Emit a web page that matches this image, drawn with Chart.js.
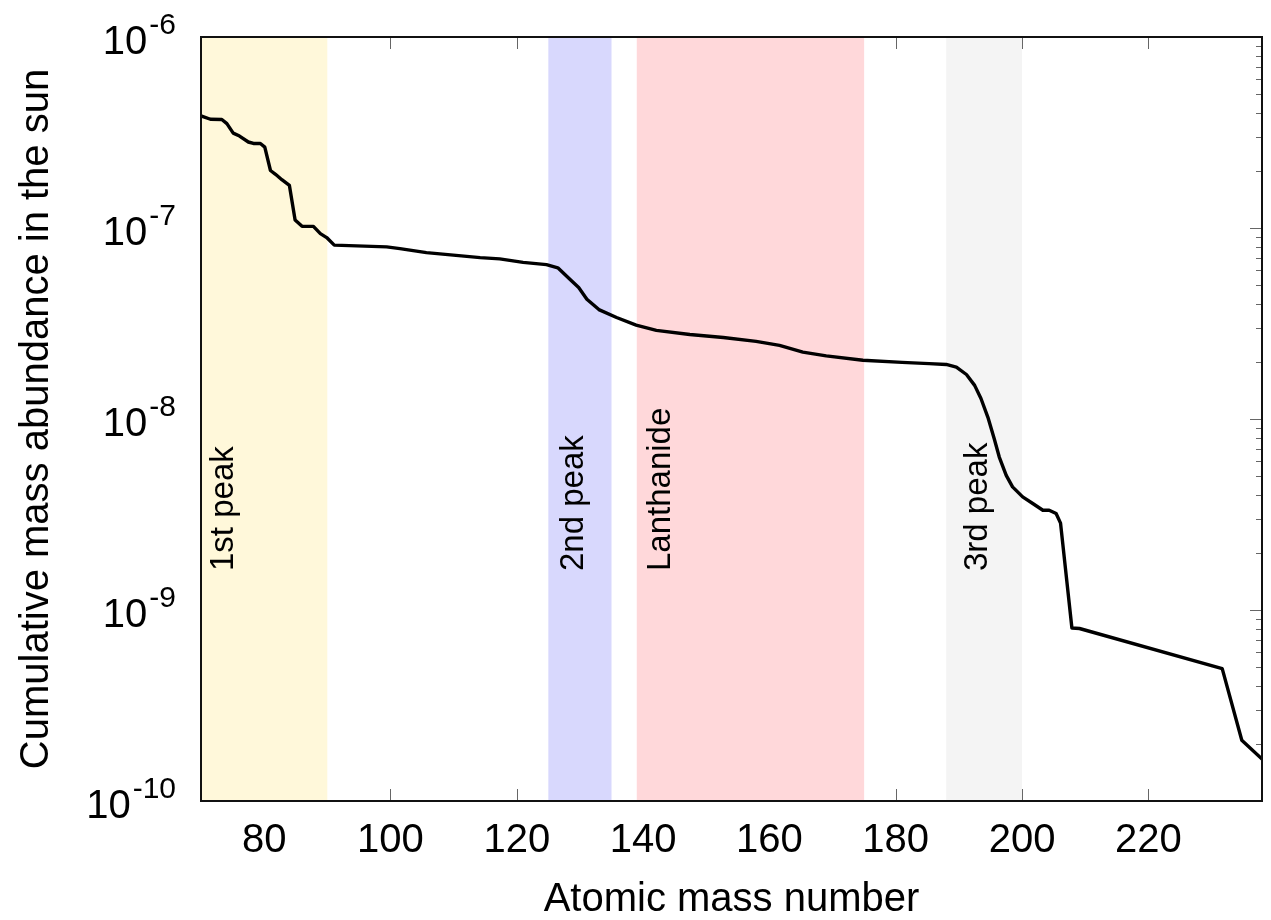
<!DOCTYPE html>
<html>
<head>
<meta charset="utf-8">
<title>Cumulative mass abundance in the sun</title>
<script src="https://cdn.jsdelivr.net/npm/chart.js@4.4.1/dist/chart.umd.min.js"></script>
<style>
  html, body { margin: 0; padding: 0; background: #fff; }
  canvas { display: block; }
</style>
</head>
<body>
<canvas id="chart" width="1271" height="920"></canvas>
<script>
// values
const massNumber = [
  70.0, 71.5, 73.3, 74.1, 75.1, 76.1, 77.5, 78.3, 79.4, 80.1,
  81.0, 81.8, 82.8, 84.0, 84.9, 86.0, 87.8, 88.9, 89.9, 91.1,
  99.4, 101.5, 105.7, 114.2, 117.3, 121.0, 124.7, 126.5, 128.2, 129.8,
  131.1, 133.0, 135.8, 138.9, 142.1, 147.4, 152.7, 157.9, 161.6, 165.3,
  169.0, 174.8, 181.0, 185.3, 188.0, 189.6, 191.2, 192.5, 193.5, 194.6,
  195.6, 196.4, 197.5, 198.5, 200.1, 201.7, 203.3, 204.3, 205.4, 206.1,
  207.9, 209.1, 231.7, 234.8, 238.0
]
const abundance = [
  3.86e-7, 3.71e-7, 3.70e-7, 3.52e-7, 3.14e-7, 3.03e-7, 2.82e-7, 2.77e-7, 2.77e-7, 2.65e-7,
  2.00e-7, 1.91e-7, 1.79e-7, 1.67e-7, 1.10e-7, 1.02e-7, 1.02e-7, 9.35e-8, 8.91e-8, 8.13e-8,
  7.96e-8, 7.80e-8, 7.43e-8, 7.00e-8, 6.89e-8, 6.61e-8, 6.43e-8, 6.19e-8, 5.47e-8, 4.88e-8,
  4.24e-8, 3.74e-8, 3.40e-8, 3.10e-8, 2.91e-8, 2.77e-8, 2.67e-8, 2.55e-8, 2.43e-8, 2.24e-8,
  2.14e-8, 2.03e-8, 1.98e-8, 1.95e-8, 1.93e-8, 1.87e-8, 1.71e-8, 1.50e-8, 1.28e-8, 1.02e-8,
  7.89e-9, 6.32e-9, 5.07e-9, 4.41e-9, 3.91e-9, 3.61e-9, 3.33e-9, 3.33e-9, 3.20e-9, 2.85e-9,
  8.05e-10, 8.00e-10, 4.93e-10, 2.08e-10, 1.66e-10
]
const bandStart = [70, 125, 139, 188]
const bandEnd = [90, 135, 175, 200]
const bandLabels = ['1st peak', '2nd peak', 'Lanthanide', '3rd peak']
const xTicks = [80, 100, 120, 140, 160, 180, 200, 220]
const yExponents = [-10, -9, -8, -7, -6]

const FONT = '"Liberation Sans", Arial, Helvetica, sans-serif'
const bandColors = ['#fff8da', '#d8d8fd', '#ffd8da', '#f4f4f4']
const bandLabelAt = [75.1, 130.5, 144.2, 194.5] // baseline of the rotated labels
const bandLabelBottom = 1.6e-9

const frame = {
    id: 'frame',
    beforeDatasetsDraw(chart) {
        const { ctx, chartArea: a, scales: { x, y } } = chart
        ctx.save()

        // inward ticks, like gnuplot
        ctx.strokeStyle = '#666'
        ctx.lineWidth = 1
        ctx.beginPath()
        xTicks.forEach(v => {
            const px = Math.round(x.getPixelForValue(v)) + 0.5
            ctx.moveTo(px, a.bottom); ctx.lineTo(px, a.bottom - 12)
            ctx.moveTo(px, a.top); ctx.lineTo(px, a.top + 12)
        })
        const top = yExponents[yExponents.length - 1]
        yExponents.forEach(e => {
            for (let m = 1; m <= 9; m++) {
                if (e === top && m > 1) break
                const py = Math.round(y.getPixelForValue(m * Math.pow(10, e))) + 0.5
                const len = m === 1 ? 12 : 6
                ctx.moveTo(a.left, py); ctx.lineTo(a.left + len, py)
                ctx.moveTo(a.right, py); ctx.lineTo(a.right - len, py)
            }
        })
        ctx.stroke()

        // shaded regions
        bandStart.forEach((s, i) => {
            const x0 = x.getPixelForValue(s)
            const x1 = x.getPixelForValue(bandEnd[i])
            ctx.fillStyle = bandColors[i]
            ctx.fillRect(x0, a.top, x1 - x0, a.bottom - a.top)
        })

        // region labels
        ctx.fillStyle = '#000'
        ctx.font = '33px ' + FONT
        ctx.textAlign = 'left'
        ctx.textBaseline = 'alphabetic'
        const yb = y.getPixelForValue(bandLabelBottom)
        bandLabels.forEach((t, i) => {
            ctx.save()
            ctx.translate(x.getPixelForValue(bandLabelAt[i]), yb)
            ctx.rotate(-Math.PI / 2)
            ctx.fillText(t, 0, 0)
            ctx.restore()
        })
        ctx.restore()
    },
    afterDatasetsDraw(chart) {
        const { ctx, chartArea: a, scales: { y } } = chart
        ctx.save()
        ctx.strokeStyle = '#111'
        ctx.lineWidth = 2
        ctx.strokeRect(a.left, a.top, a.right - a.left, a.bottom - a.top)

        // 10^n labels with a raised exponent
        ctx.fillStyle = '#000'
        ctx.textAlign = 'right'
        ctx.textBaseline = 'alphabetic'
        yExponents.forEach(e => {
            const py = y.getPixelForValue(Math.pow(10, e))
            const right = 176
            const sup = String(e)
            ctx.font = '30px ' + FONT
            ctx.fillText(sup, right, py - 3)
            const w = ctx.measureText(sup).width
            ctx.font = '40px ' + FONT
            ctx.fillText('10', right - w - 2, py + 17)
        })
        ctx.restore()
    }
}

const ctx = document.getElementById('chart').getContext('2d')
new Chart(ctx, {
    type: 'line',
    data: {
        datasets: [{
            data: massNumber.map((m, i) => ({ x: m, y: abundance[i] })),
            borderColor: '#000',
            borderWidth: 3.4,
            borderJoinStyle: 'round',
            borderCapStyle: 'round',
            pointRadius: 0,
            fill: false,
            tension: 0
        }]
    },
    options: {
        responsive: false,
        animation: false,
        devicePixelRatio: 1,
        layout: { padding: { top: 37, right: 9, left: 0, bottom: 0 } },
        plugins: {
            legend: { display: false },
            tooltip: { enabled: false }
        },
        scales: {
            x: {
                type: 'linear',
                min: 70,
                max: 238,
                afterBuildTicks: s => { s.ticks = xTicks.map(v => ({ value: v })) },
                afterFit: s => { s.height = 119 },
                grid: { display: false, drawTicks: false },
                border: { display: false },
                ticks: {
                    color: '#000',
                    font: { size: 40, family: FONT },
                    padding: 16,
                    maxRotation: 0,
                    autoSkip: false
                },
                title: {
                    display: true,
                    text: 'Atomic mass number',
                    color: '#000',
                    font: { size: 40, family: FONT, lineHeight: 1 },
                    padding: { top: 0, bottom: 0 }
                }
            },
            y: {
                type: 'logarithmic',
                min: 1e-10,
                max: 1e-6,
                afterFit: s => { s.width = 201 },
                grid: { display: false, drawTicks: false },
                border: { display: false },
                ticks: { display: false },
                title: {
                    display: true,
                    text: 'Cumulative mass abundance in the sun',
                    color: '#000',
                    font: { size: 40, family: FONT, lineHeight: 1 },
                    padding: { top: 17, bottom: 0 }
                }
            }
        }
    },
    plugins: [frame]
})
</script>
</body>
</html>
